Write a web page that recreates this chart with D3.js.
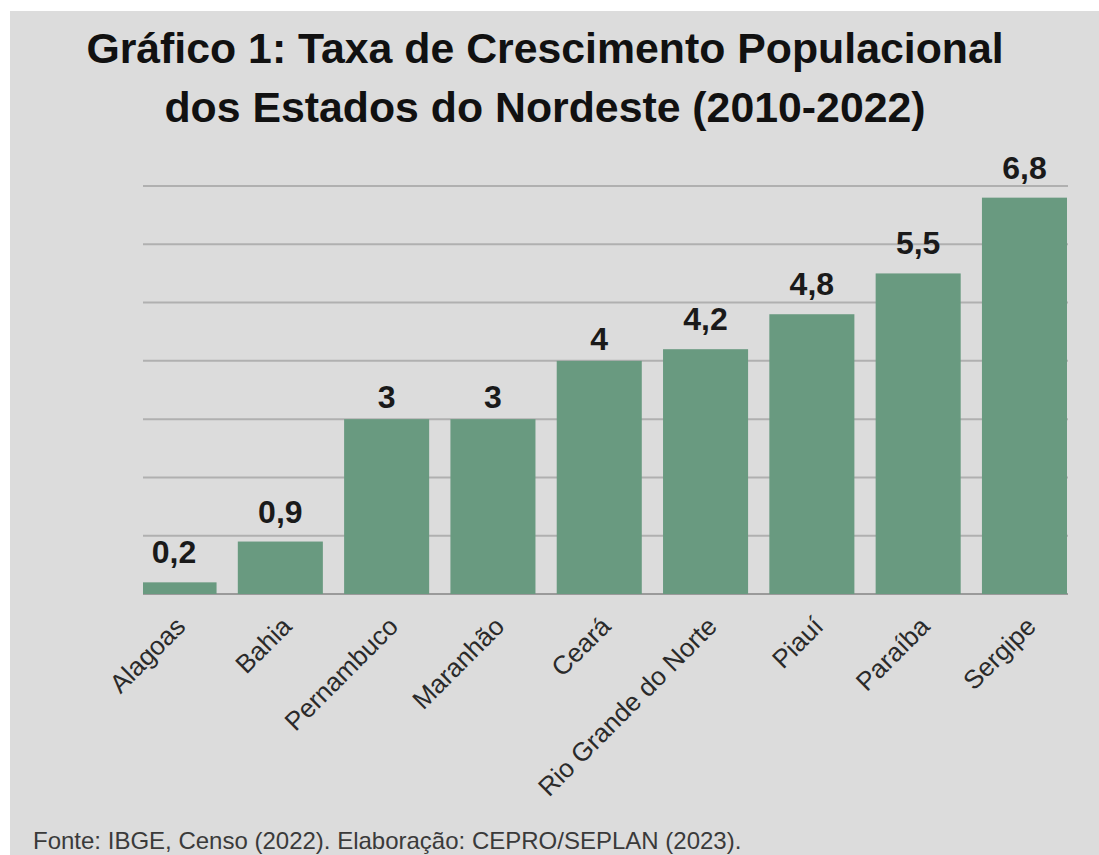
<!DOCTYPE html>
<html>
<head>
<meta charset="utf-8">
<script src="https://cdn.jsdelivr.net/npm/d3@7"></script>
<style>
    body { margin: 0; background: #fff; }
    svg text { font-family: "Liberation Sans", Arial, sans-serif; }
</style>
</head>
<body>
<div id="chart"></div>
<script>
var estados = ["Alagoas", "Bahia", "Pernambuco", "Maranhão", "Ceará", "Rio Grande do Norte", "Piauí", "Paraíba", "Sergipe"];
var taxas = [0.2, 0.9, 3, 3, 4, 4.2, 4.8, 5.5, 6.8];
var rotulos = ["0,2", "0,9", "3", "3", "4", "4,2", "4,8", "5,5", "6,8"];
var gridTicks = [0, 1, 2, 3, 4, 5, 6, 7];

var width = 1099, height = 855;

var svg = d3.select("#chart").append("svg")
    .attr("width", width)
    .attr("height", height);

// fundo cinza (com borda branca em cima e à esquerda)
svg.append("rect")
    .attr("x", 10).attr("y", 11)
    .attr("width", width - 10).attr("height", height - 11)
    .attr("fill", "#dcdcdc");

// titulo
var title = svg.append("text")
    .attr("x", 545)
    .attr("text-anchor", "middle")
    .attr("font-size", "42.8px")
    .attr("font-weight", "bold")
    .attr("fill", "#111");
title.append("tspan").attr("x", 545).attr("y", 63).text("Gráfico 1: Taxa de Crescimento Populacional");
title.append("tspan").attr("x", 545).attr("y", 122).text("dos Estados do Nordeste (2010-2022)");

var plotLeft = 143, plotRight = 1068;

var x = d3.scaleBand()
    .domain(estados)
    .range([131.5, 1067])
    .paddingInner(0.2)
    .paddingOuter(0);

var y = d3.scaleLinear()
    .domain([0, 7])
    .range([594, 186]);

// linhas de grade
svg.append("g")
    .selectAll("line")
    .data(gridTicks)
    .enter().append("line")
    .attr("x1", plotLeft)
    .attr("x2", plotRight)
    .attr("y1", function (d) { return y(d); })
    .attr("y2", function (d) { return y(d); })
    .attr("stroke", function (d) { return d == 0 ? "#9a9a9a" : "#b0b0b0"; })
    .attr("stroke-width", 2);

svg.append("clipPath")
    .attr("id", "plot-clip")
    .append("rect")
    .attr("x", plotLeft).attr("y", 0)
    .attr("width", plotRight - plotLeft + 2).attr("height", height);

// barras
svg.append("g")
    .attr("clip-path", "url(#plot-clip)")
    .selectAll("rect")
    .data(estados)
    .enter().append("rect")
    .attr("x", function (d) { return x(d); })
    .attr("y", function (d, i) { return y(taxas[i]); })
    .attr("width", x.bandwidth())
    .attr("height", function (d, i) { return y(0) - y(taxas[i]); })
    .attr("fill", "#699a80");

// valores (rotulos com virgula ficam um pouco mais altos)
svg.append("g")
    .selectAll("text")
    .data(estados)
    .enter().append("text")
    .attr("x", function (d) { return x(d) + x.bandwidth() / 2; })
    .attr("y", function (d, i) {
        var gap = rotulos[i].indexOf(",") >= 0 ? 19 : 11;
        return y(taxas[i]) - gap;
    })
    .attr("text-anchor", "middle")
    .attr("font-size", "32px")
    .attr("font-weight", "bold")
    .attr("fill", "#1a1a1a")
    .text(function (d, i) { return rotulos[i]; });

// rotulos do eixo x
svg.append("g")
    .selectAll("text")
    .data(estados)
    .enter().append("text")
    .attr("transform", function (d) {
        return "translate(" + (x(d) + x.bandwidth() / 2 + 13) + ",628) rotate(-45)";
    })
    .attr("text-anchor", "end")
    .attr("font-size", "26px")
    .attr("fill", "#2a2a2a")
    .text(function (d) { return d; });

// fonte
svg.append("text")
    .attr("x", 33)
    .attr("y", 849)
    .attr("font-size", "24px")
    .attr("fill", "#3a3a3a")
    .text("Fonte: IBGE, Censo (2022). Elaboração: CEPRO/SEPLAN (2023).");
</script>
</body>
</html>
